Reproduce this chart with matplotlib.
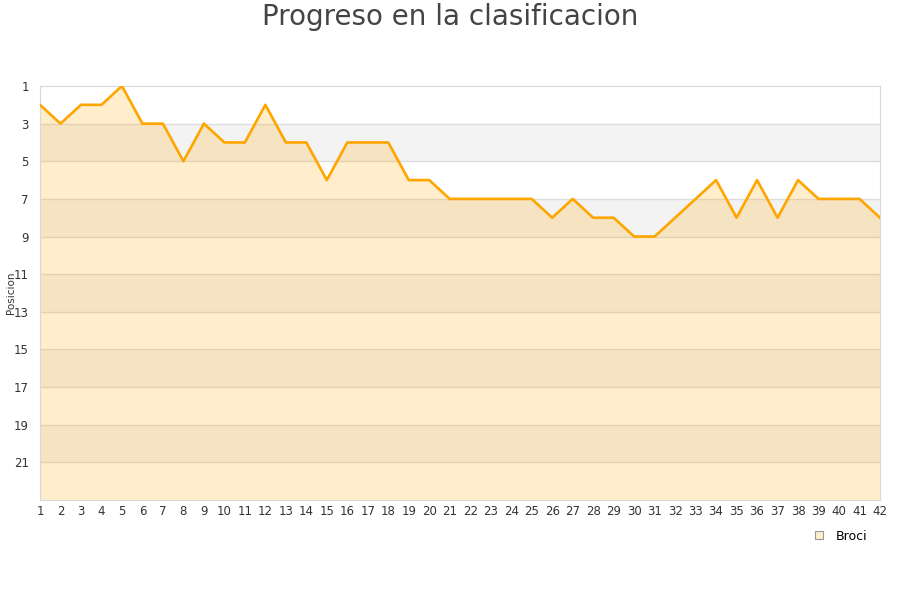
import matplotlib
matplotlib.use('Agg')
import matplotlib.pyplot as plt
from matplotlib.lines import Line2D

""" Data """

jornadas = list(range(1, 43))
posicion = [2, 3, 2, 2, 1, 3, 3, 5, 3, 4, 4, 2, 4, 4, 6, 4, 4, 4, 6, 6, 7,
            7, 7, 7, 7, 8, 7, 8, 8, 9, 9, 8, 7, 6, 8, 6, 8, 6, 7, 7, 7, 8]
yticks = list(range(1, 22, 2))
equipo = 'Broci'

""" Plot """

fig = plt.figure(figsize=(9, 6), dpi=100)
ax = fig.add_axes([40 / 900, 1 - 500 / 600, 840 / 900, 414 / 600])

ymax = 23
ax.set_xlim(1, 42)
ax.set_ylim(ymax, 1)

# alternating bands
for i, t in enumerate(range(1, ymax, 2)):
    if i % 2 == 1:
        ax.axhspan(t, t + 2, color='#f3f3f3', zorder=0, lw=0)
for t in range(3, ymax, 2):
    ax.axhline(t, color='#dddddd', lw=1, zorder=1)

ax.fill_between(jornadas, posicion, ymax, color='orange', alpha=0.2, lw=0, zorder=2)
ax.plot(jornadas, posicion, color='#ffa500', lw=1.9, zorder=3, label=equipo)

ax.set_xticks(jornadas)
ax.set_yticks(yticks)
ax.tick_params(axis='both', length=0, labelsize=8.5, colors='#333333')
ax.tick_params(axis='y', pad=8)
for s in ax.spines.values():
    s.set_color('#d8d8d8')

ax.set_ylabel('Posicion', fontsize=7.5, color='#333333')
ax.yaxis.set_label_coords(-24 / 840, 0.5)
fig.suptitle('Progreso en la clasificacion', fontsize=20, color='#444444', y=0.995)

handle = Line2D([], [], marker='s', linestyle='none', markersize=6,
                markerfacecolor='#ffedcc', markeredgecolor='#999999', markeredgewidth=0.8)
fig.legend([handle], [equipo], loc='center', bbox_to_anchor=(837 / 900, 1 - 536 / 600),
           frameon=False, fontsize=9, handletextpad=0.3, borderpad=0)

fig.savefig('out.png', dpi=100)
